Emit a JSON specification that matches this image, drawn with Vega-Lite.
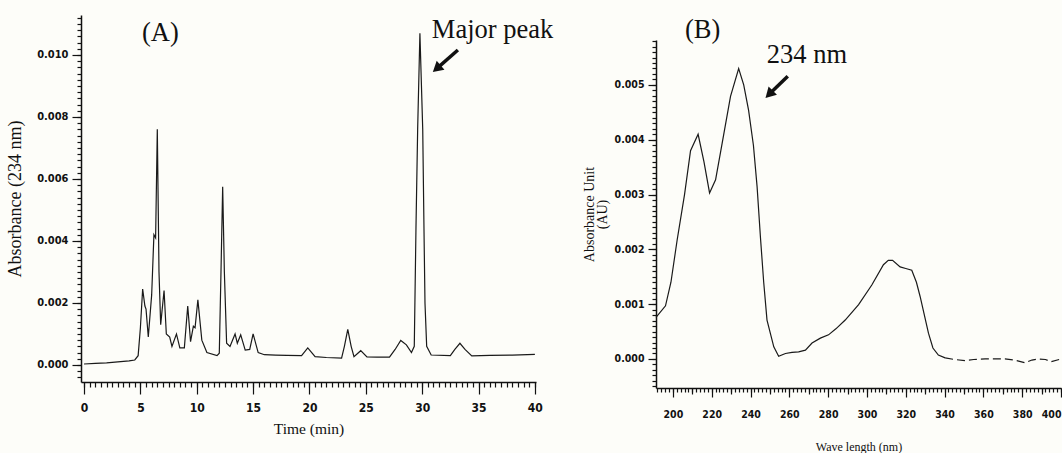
{
  "$schema": "https://vega.github.io/schema/vega-lite/v6.json",
  "background": "#fdfdf9",
  "padding": {"left": 6, "top": 15, "right": 0, "bottom": 0},
  "spacing": 28,
  "config": {
    "view": {"stroke": null},
    "axis": {
      "grid": false,
      "domainColor": "#111111",
      "domainWidth": 1.5,
      "tickColor": "#111111",
      "tickWidth": 1.2,
      "labelFont": "'Liberation Sans Narrow', 'DejaVu Sans Condensed', 'Arial Narrow', sans-serif",
      "labelFontWeight": "bold",
      "labelColor": "#111111",
      "titleFont": "Liberation Serif",
      "titleFontWeight": "normal",
      "titleColor": "#111111"
    }
  },
  "datasets": {
    "chromA": [
      {"time": 0, "absorbance": 0.00003}, {"time": 1, "absorbance": 0.00005}, {"time": 2, "absorbance": 0.00007},
      {"time": 3, "absorbance": 0.0001}, {"time": 4, "absorbance": 0.00013}, {"time": 4.5, "absorbance": 0.00016},
      {"time": 4.8, "absorbance": 0.0003}, {"time": 5.0, "absorbance": 0.0012}, {"time": 5.2, "absorbance": 0.00245},
      {"time": 5.4, "absorbance": 0.0019}, {"time": 5.5, "absorbance": 0.0018}, {"time": 5.7, "absorbance": 0.0009},
      {"time": 6.0, "absorbance": 0.00226}, {"time": 6.2, "absorbance": 0.0042}, {"time": 6.35, "absorbance": 0.0041},
      {"time": 6.5, "absorbance": 0.0076}, {"time": 6.65, "absorbance": 0.003}, {"time": 6.8, "absorbance": 0.0013},
      {"time": 7.1, "absorbance": 0.0024}, {"time": 7.3, "absorbance": 0.001}, {"time": 7.6, "absorbance": 0.0009},
      {"time": 7.8, "absorbance": 0.0006}, {"time": 8.2, "absorbance": 0.001}, {"time": 8.5, "absorbance": 0.00055},
      {"time": 8.9, "absorbance": 0.00055}, {"time": 9.2, "absorbance": 0.0019}, {"time": 9.45, "absorbance": 0.00075},
      {"time": 9.7, "absorbance": 0.00125}, {"time": 9.85, "absorbance": 0.0012}, {"time": 10.1, "absorbance": 0.0021},
      {"time": 10.45, "absorbance": 0.0008}, {"time": 10.9, "absorbance": 0.0004}, {"time": 11.8, "absorbance": 0.0003},
      {"time": 12.0, "absorbance": 0.00038}, {"time": 12.15, "absorbance": 0.003}, {"time": 12.3, "absorbance": 0.00575},
      {"time": 12.45, "absorbance": 0.003}, {"time": 12.65, "absorbance": 0.0007}, {"time": 12.95, "absorbance": 0.0006},
      {"time": 13.4, "absorbance": 0.001}, {"time": 13.6, "absorbance": 0.0007}, {"time": 13.9, "absorbance": 0.00097},
      {"time": 14.3, "absorbance": 0.00048}, {"time": 14.7, "absorbance": 0.0005}, {"time": 15.0, "absorbance": 0.001},
      {"time": 15.45, "absorbance": 0.0004}, {"time": 16, "absorbance": 0.00033}, {"time": 17, "absorbance": 0.00032},
      {"time": 18, "absorbance": 0.00031}, {"time": 19.3, "absorbance": 0.0003}, {"time": 19.85, "absorbance": 0.00055},
      {"time": 20.5, "absorbance": 0.00027}, {"time": 21.5, "absorbance": 0.00024}, {"time": 22.85, "absorbance": 0.00022},
      {"time": 23.1, "absorbance": 0.0006}, {"time": 23.4, "absorbance": 0.00115}, {"time": 23.7, "absorbance": 0.0006},
      {"time": 23.95, "absorbance": 0.00027}, {"time": 24.55, "absorbance": 0.00046}, {"time": 25.1, "absorbance": 0.00026},
      {"time": 26, "absorbance": 0.00025}, {"time": 27.1, "absorbance": 0.00025}, {"time": 27.6, "absorbance": 0.0005},
      {"time": 28.1, "absorbance": 0.00079}, {"time": 28.6, "absorbance": 0.00065}, {"time": 29.05, "absorbance": 0.0004},
      {"time": 29.3, "absorbance": 0.0006}, {"time": 29.45, "absorbance": 0.0044}, {"time": 29.6, "absorbance": 0.0076},
      {"time": 29.8, "absorbance": 0.0107}, {"time": 30.05, "absorbance": 0.0076}, {"time": 30.15, "absorbance": 0.0047},
      {"time": 30.25, "absorbance": 0.002}, {"time": 30.4, "absorbance": 0.0006}, {"time": 30.8, "absorbance": 0.00032},
      {"time": 32.5, "absorbance": 0.0003}, {"time": 32.9, "absorbance": 0.0005}, {"time": 33.35, "absorbance": 0.0007},
      {"time": 33.8, "absorbance": 0.0005}, {"time": 34.4, "absorbance": 0.00029}, {"time": 36, "absorbance": 0.00031},
      {"time": 38, "absorbance": 0.00032}, {"time": 40, "absorbance": 0.00034}
    ],
    "labelsA": [
      {"time": 5.14, "absorbance": 0.01044, "label": "(A)"},
      {"time": 30.86, "absorbance": 0.01055, "label": "Major peak"}
    ],
    "arrowA": [
      {"time": 33.17, "absorbance": 0.01016, "time2": 31.29, "absorbance2": 0.00956}
    ],
    "spectrumB": [
      {"wavelength": 191.3, "absorbance": 0.00076}, {"wavelength": 196.2, "absorbance": 0.00097},
      {"wavelength": 199, "absorbance": 0.0014}, {"wavelength": 202.2, "absorbance": 0.00217},
      {"wavelength": 206, "absorbance": 0.003}, {"wavelength": 209.1, "absorbance": 0.0038},
      {"wavelength": 213, "absorbance": 0.0041}, {"wavelength": 216, "absorbance": 0.0036},
      {"wavelength": 218.9, "absorbance": 0.00303}, {"wavelength": 222, "absorbance": 0.00327},
      {"wavelength": 225.4, "absorbance": 0.00394}, {"wavelength": 229.7, "absorbance": 0.00479},
      {"wavelength": 233.9, "absorbance": 0.0053}, {"wavelength": 236.5, "absorbance": 0.005},
      {"wavelength": 239, "absorbance": 0.00454}, {"wavelength": 241.5, "absorbance": 0.0039},
      {"wavelength": 243.4, "absorbance": 0.00314}, {"wavelength": 245.1, "absorbance": 0.00223},
      {"wavelength": 246.8, "absorbance": 0.0014}, {"wavelength": 248.5, "absorbance": 0.00071},
      {"wavelength": 252, "absorbance": 0.00022}, {"wavelength": 254.5, "absorbance": 0.00005},
      {"wavelength": 258, "absorbance": 0.0001}, {"wavelength": 261.4, "absorbance": 0.00012},
      {"wavelength": 264.8, "absorbance": 0.00013}, {"wavelength": 268.3, "absorbance": 0.00016},
      {"wavelength": 271.7, "absorbance": 0.00029}, {"wavelength": 276, "absorbance": 0.00038},
      {"wavelength": 280.2, "absorbance": 0.00044}, {"wavelength": 284, "absorbance": 0.00055},
      {"wavelength": 288.8, "absorbance": 0.00071}, {"wavelength": 295.7, "absorbance": 0.00099},
      {"wavelength": 302.5, "absorbance": 0.00135}, {"wavelength": 308.5, "absorbance": 0.00172},
      {"wavelength": 311, "absorbance": 0.0018}, {"wavelength": 313.2, "absorbance": 0.0018},
      {"wavelength": 317.1, "absorbance": 0.00168}, {"wavelength": 320, "absorbance": 0.00165},
      {"wavelength": 323.1, "absorbance": 0.00162}, {"wavelength": 325.5, "absorbance": 0.0014},
      {"wavelength": 327.4, "absorbance": 0.00114}, {"wavelength": 331.7, "absorbance": 0.00047},
      {"wavelength": 334, "absorbance": 0.0002}, {"wavelength": 336.8, "absorbance": 0.00007},
      {"wavelength": 340.3, "absorbance": 0.00002}
    ],
    "tailB": [
      {"wavelength": 340.3, "absorbance": 0.00002}, {"wavelength": 345, "absorbance": -0.00001},
      {"wavelength": 350.6, "absorbance": -0.00003}, {"wavelength": 355, "absorbance": -0.00001},
      {"wavelength": 360.9, "absorbance": 0}, {"wavelength": 366, "absorbance": 0},
      {"wavelength": 371.1, "absorbance": 0}, {"wavelength": 376, "absorbance": -0.00002},
      {"wavelength": 381.4, "absorbance": -0.00007}, {"wavelength": 385, "absorbance": -0.00002},
      {"wavelength": 388.3, "absorbance": 0}, {"wavelength": 392, "absorbance": -0.00001},
      {"wavelength": 395, "absorbance": -0.00005}, {"wavelength": 400, "absorbance": 0}
    ],
    "labelsB": [
      {"wavelength": 206.2, "absorbance": 0.00586, "label": "(B)"},
      {"wavelength": 248.4, "absorbance": 0.0054, "label": "234 nm"}
    ],
    "arrowB": [
      {"wavelength": 259.2, "absorbance": 0.00516, "wavelength2": 249.6, "absorbance2": 0.00483}
    ]
  },
  "hconcat": [
    {
      "width": 455,
      "height": 367,
      "resolve": {"axis": {"x": "independent", "y": "independent"}},
      "layer": [
        {
          "data": {"name": "chromA"},
          "mark": {"type": "line", "color": "#1a1a1a", "strokeWidth": 1.2},
          "encoding": {
            "x": {"field": "time", "type": "quantitative",
              "scale": {"domain": [-0.27, 40.1], "nice": false, "zero": false},
              "axis": {"orient": "bottom", "values": [0, 5, 10, 15, 20, 25, 30, 35, 40], "tickSize": 12, "labelPadding": 8, "labelFontSize": 12, "title": "Time (min)", "titleFontSize": 15.5, "titlePadding": 8}},
            "y": {"field": "absorbance", "type": "quantitative",
              "scale": {"domain": [-0.00055, 0.01129], "nice": false, "zero": false},
              "axis": {"orient": "left", "values": [0, 0.002, 0.004, 0.006, 0.008, 0.01], "format": ".3f", "tickSize": 9, "labelPadding": 4, "labelFontSize": 11, "title": "Absorbance (234 nm)", "titleFontSize": 18, "titlePadding": 12}}
          }
        },
        {
          "data": {"name": "labelsA"},
          "mark": {"type": "text", "font": "Liberation Serif", "fontSize": 26.5, "align": "left", "baseline": "alphabetic", "color": "#111111"},
          "encoding": {
            "x": {"field": "time", "type": "quantitative",
              "axis": {"orient": "bottom", "tickCount": 80, "labels": false, "domain": false, "tickSize": 5, "title": null}},
            "y": {"field": "absorbance", "type": "quantitative",
              "axis": {"orient": "left", "tickCount": 59, "labels": false, "domain": false, "tickSize": 4, "title": null}},
            "text": {"field": "label"}
          }
        },
        {
          "data": {"name": "arrowA"},
          "mark": {"type": "rule", "color": "#111111", "strokeWidth": 3.5},
          "encoding": {
            "x": {"field": "time", "type": "quantitative", "axis": null},
            "y": {"field": "absorbance", "type": "quantitative", "axis": null},
            "x2": {"field": "time2"},
            "y2": {"field": "absorbance2"}
          }
        },
        {
          "data": {"name": "arrowA"},
          "mark": {"type": "point", "shape": "triangle-up", "filled": true, "color": "#111111", "opacity": 1, "size": 140, "angle": 229},
          "encoding": {
            "x": {"field": "time2", "type": "quantitative", "axis": null},
            "y": {"field": "absorbance2", "type": "quantitative", "axis": null}
          }
        }
      ]
    },
    {
      "width": 405,
      "height": 373,
      "resolve": {"axis": {"x": "independent", "y": "independent"}},
      "layer": [
        {
          "data": {"name": "spectrumB"},
          "mark": {"type": "line", "color": "#1a1a1a", "strokeWidth": 1.2},
          "encoding": {
            "x": {"field": "wavelength", "type": "quantitative",
              "scale": {"domain": [191.3, 400], "nice": false, "zero": false},
              "axis": {"orient": "bottom", "values": [200, 220, 240, 260, 280, 300, 320, 340, 360, 380, 400], "tickSize": 9, "labelPadding": 12, "labelFontSize": 10.5, "labelFlush": 6, "title": "Wave length (nm)", "titleFontSize": 12, "titlePadding": 22}},
            "y": {"field": "absorbance", "type": "quantitative",
              "scale": {"domain": [-0.00053, 0.00582], "range": [373, 25], "nice": false, "zero": false},
              "axis": {"orient": "left", "values": [0, 0.001, 0.002, 0.003, 0.004, 0.005], "format": ".3f", "tickSize": 8, "labelPadding": 4, "labelFontSize": 10.5, "title": ["Absorbance Unit", "(AU)"], "titleFontSize": 14, "titleLineHeight": 13, "titlePadding": 5}}
          }
        },
        {
          "data": {"name": "tailB"},
          "mark": {"type": "line", "color": "#1a1a1a", "strokeWidth": 1.2, "strokeDash": [8, 4]},
          "encoding": {
            "x": {"field": "wavelength", "type": "quantitative", "axis": null},
            "y": {"field": "absorbance", "type": "quantitative", "axis": null}
          }
        },
        {
          "data": {"name": "labelsB"},
          "mark": {"type": "text", "font": "Liberation Serif", "fontSize": 26.5, "align": "left", "baseline": "alphabetic", "color": "#111111"},
          "encoding": {
            "x": {"field": "wavelength", "type": "quantitative",
              "axis": {"orient": "bottom", "tickCount": 104, "labels": false, "domain": false, "tickSize": 4, "title": null}},
            "y": {"field": "absorbance", "type": "quantitative",
              "axis": {"orient": "left", "tickCount": 63, "labels": false, "domain": false, "tickSize": 4, "title": null}},
            "text": {"field": "label"}
          }
        },
        {
          "data": {"name": "arrowB"},
          "mark": {"type": "rule", "color": "#111111", "strokeWidth": 3.5},
          "encoding": {
            "x": {"field": "wavelength", "type": "quantitative",
              "axis": {"orient": "bottom", "values": [210, 230, 250, 270, 290, 310, 330, 350, 370, 390], "labels": false, "domain": false, "tickSize": 6, "title": null}},
            "y": {"field": "absorbance", "type": "quantitative", "axis": null},
            "x2": {"field": "wavelength2"},
            "y2": {"field": "absorbance2"}
          }
        },
        {
          "data": {"name": "arrowB"},
          "mark": {"type": "point", "shape": "triangle-up", "filled": true, "color": "#111111", "opacity": 1, "size": 140, "angle": 225},
          "encoding": {
            "x": {"field": "wavelength2", "type": "quantitative", "axis": null},
            "y": {"field": "absorbance2", "type": "quantitative", "axis": null}
          }
        }
      ]
    }
  ]
}
